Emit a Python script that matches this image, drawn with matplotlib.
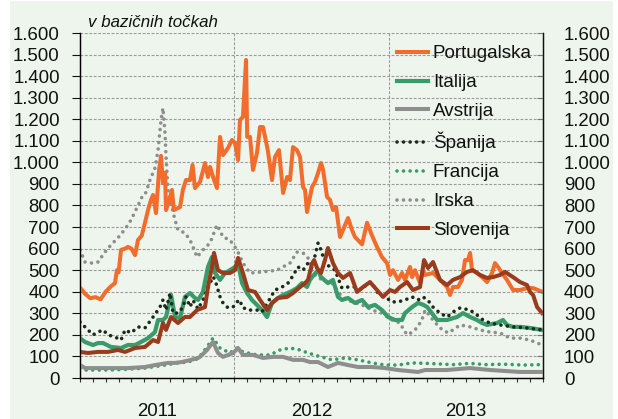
import matplotlib
matplotlib.use('Agg')
import matplotlib.pyplot as plt
from matplotlib.patches import Rectangle
from matplotlib.ticker import FuncFormatter, MultipleLocator, FixedLocator

plt.rcParams['font.family'] = ['Liberation Sans', 'DejaVu Sans']

# months since January 2011, spread in basis points
portugalska = [(0, 420), (0.4, 390), (0.8, 370), (1.2, 375), (1.6, 365), (2.0, 400), (2.4, 425), (2.72, 440),
               (2.87, 500), (3.0, 490), (3.19, 594), (3.5, 600), (3.73, 608), (4.0, 600), (4.28, 570), (4.51, 640),
               (4.8, 660), (5.05, 719), (5.29, 779), (5.52, 826), (5.68, 849), (5.91, 765), (6.15, 965), (6.3, 1030),
               (6.45, 904), (6.61, 951), (6.69, 779), (6.95, 826), (7.15, 872), (7.3, 779), (7.78, 793), (8.0, 872),
               (8.24, 918), (8.55, 918), (8.75, 988), (8.94, 881), (9.33, 909), (9.72, 997), (9.95, 932), (10.11, 979),
               (10.35, 932), (10.65, 881), (10.89, 1118), (11.12, 1034), (11.51, 1067), (11.82, 1104), (12.05, 1090),
               (12.29, 1011), (12.44, 1197), (12.67, 1211), (12.91, 1475), (13.0, 1118), (13.22, 1118), (13.45, 965),
               (13.76, 1044), (14.0, 1164), (14.23, 1164), (14.6, 1057), (14.93, 918), (15.16, 1025), (15.47, 1057),
               (15.79, 858), (16.1, 932), (16.33, 918), (16.56, 1071), (16.87, 1057), (17.11, 1025), (17.34, 886),
               (17.5, 872), (17.65, 770), (18.04, 886), (18.27, 909), (18.51, 951), (18.74, 997), (18.9, 965),
               (19.21, 840), (19.44, 826), (19.67, 779), (19.91, 793), (20.22, 654), (20.45, 686), (20.84, 742),
               (21.15, 686), (21.38, 654), (21.93, 620), (22.32, 720), (22.71, 660), (23.09, 608), (23.48, 561),
               (23.87, 533), (24.11, 478), (24.34, 500), (24.73, 455), (25.04, 487), (25.27, 455), (25.66, 515),
               (25.82, 468), (26.05, 500), (26.44, 440), (26.67, 500), (26.83, 478), (27.45, 487), (27.99, 455),
               (28.54, 422), (28.77, 385), (29.0, 422), (29.39, 422), (29.7, 455), (29.94, 547), (30.17, 547),
               (30.33, 580), (30.48, 500), (30.87, 487), (31.26, 468), (31.65, 445), (32.04, 487), (32.27, 533),
               (32.5, 515), (32.81, 487), (33.2, 455), (33.67, 408), (34.21, 408), (34.76, 417), (35.23, 417),
               (35.93, 400)]

italija = [(0, 185), (0.39, 167), (1.01, 153), (1.4, 162), (1.79, 162), (2.41, 144), (3.19, 139), (3.73, 153),
           (4.28, 153), (4.74, 167), (5.29, 185), (5.83, 213), (6.07, 269), (6.45, 269), (6.69, 283), (7.08, 385),
           (7.39, 283), (7.78, 278), (8.16, 376), (8.55, 394), (8.94, 371), (9.18, 362), (9.56, 399), (9.95, 515),
           (10.26, 561), (10.5, 487), (10.89, 455), (11.28, 487), (11.66, 500), (12.05, 515), (12.29, 533),
           (12.6, 440), (12.99, 394), (13.37, 362), (13.76, 339), (14.15, 315), (14.54, 283), (14.93, 348),
           (15.4, 371), (15.79, 385), (16.33, 399), (16.87, 417), (17.26, 440), (17.65, 422), (17.88, 455),
           (18.04, 468), (18.51, 500), (18.74, 468), (19.28, 440), (19.67, 455), (20.06, 376), (20.37, 362),
           (20.84, 371), (21.38, 348), (21.93, 362), (22.4, 329), (22.94, 339), (23.48, 315), (23.95, 283),
           (24.49, 269), (25.04, 269), (25.27, 301), (25.82, 329), (26.28, 348), (26.67, 340), (27.0, 329),
           (27.76, 269), (28.54, 269), (29.32, 283), (29.78, 301), (30.33, 283), (30.87, 269), (31.26, 255),
           (31.65, 246), (32.43, 255), (32.89, 269), (33.2, 246), (33.67, 237), (34.21, 237), (34.99, 232),
           (35.93, 223)]

avstrija = [(0, 60), (0.39, 46), (1.4, 46), (2.41, 46), (3.73, 46), (5.05, 51), (5.83, 60), (6.84, 70), (7.39, 70),
            (7.9, 74), (8.63, 84), (9.18, 93), (9.33, 98), (9.88, 130), (10.34, 167), (10.73, 116), (11.12, 98),
            (11.9, 116), (12.29, 139), (12.67, 107), (13.45, 107), (14.23, 93), (15.01, 98), (15.79, 98),
            (16.56, 84), (17.34, 84), (17.88, 74), (18.51, 74), (19.28, 51), (20.06, 70), (20.84, 60), (21.62, 51),
            (22.71, 51), (23.72, 46), (24.73, 37), (26.28, 28), (26.83, 37), (28.5, 37), (30.33, 46), (31.9, 37),
            (34.21, 28), (35.93, 28)]

spanija = [(0, 260), (0.23, 246), (0.62, 223), (1.01, 200), (1.4, 213), (1.79, 223), (2.18, 200), (2.72, 190),
           (3.19, 176), (3.5, 223), (3.97, 209), (4.51, 237), (5.05, 232), (5.52, 269), (6.22, 329), (6.45, 362),
           (6.69, 315), (7.0, 394), (7.23, 301), (7.62, 301), (8.01, 329), (8.24, 376), (8.55, 330), (8.79, 360),
           (9.18, 320), (9.56, 362), (10.11, 440), (10.34, 470), (10.5, 455), (10.89, 376), (11.12, 348),
           (11.43, 329), (11.66, 325), (11.9, 329), (12.21, 353), (12.44, 362), (12.6, 329), (13.06, 315),
           (13.76, 315), (14.15, 306), (14.62, 353), (15.16, 408), (15.71, 422), (16.17, 440), (16.49, 468),
           (16.95, 515), (17.34, 500), (17.73, 533), (18.04, 510), (18.51, 626), (18.74, 594), (19.05, 533),
           (19.44, 515), (19.83, 500), (20.37, 417), (20.84, 422), (21.38, 422), (21.93, 408), (22.32, 440),
           (22.71, 440), (23.17, 394), (23.72, 376), (24.26, 353), (24.73, 353), (25.27, 362), (25.82, 376),
           (26.28, 362), (26.67, 376), (27.06, 360), (27.45, 329), (27.99, 301), (28.54, 283), (29.0, 306),
           (29.55, 325), (30.33, 315), (30.87, 292), (31.34, 269), (31.88, 255), (32.66, 246), (33.67, 237),
           (34.76, 232), (35.93, 223)]

francija = [(0, 46), (0.39, 37), (2.18, 37), (3.5, 40), (5.05, 46), (6.61, 60), (7.62, 70), (8.4, 74), (9.18, 90),
            (9.88, 144), (10.34, 185), (10.89, 139), (11.66, 116), (12.21, 139), (12.67, 121), (13.76, 107),
            (14.77, 107), (15.55, 130), (16.33, 139), (17.11, 130), (17.73, 116), (18.51, 102), (19.6, 84),
            (20.61, 93), (21.62, 84), (22.71, 70), (23.72, 60), (24.73, 60), (25.82, 70), (26.83, 68), (28.0, 65),
            (29.0, 62), (30.33, 68), (31.5, 62), (33.0, 64), (34.5, 60), (35.93, 62)]

irska = [(0, 594), (0.39, 538), (0.86, 533), (1.4, 538), (1.94, 584), (2.41, 617), (2.95, 650), (3.5, 690),
         (3.97, 733), (4.51, 800), (4.9, 850), (5.13, 860), (5.44, 918), (5.83, 974), (6.07, 1057), (6.3, 1197),
         (6.45, 1252), (6.61, 1136), (6.69, 1025), (6.84, 872), (7.0, 826), (7.39, 733), (7.62, 686), (8.16, 673),
         (8.55, 640), (8.79, 608), (9.1, 561), (9.56, 594), (10.11, 626), (10.65, 710), (11.12, 654), (11.66, 640),
         (12.21, 594), (12.67, 533), (13.22, 487), (14.23, 492), (15.32, 500), (16.33, 533), (16.87, 584),
         (17.34, 580), (17.88, 547), (18.04, 487), (18.82, 455), (19.6, 440), (20.37, 376), (21.15, 353),
         (21.93, 339), (22.71, 315), (23.48, 301), (24.26, 269), (24.88, 255), (25.27, 213), (25.51, 200),
         (26.05, 223), (26.44, 255), (26.67, 283), (26.83, 315), (27.45, 269), (27.99, 232), (28.62, 209),
         (29.0, 223), (29.55, 246), (30.33, 237), (31.1, 223), (31.88, 213), (32.66, 209), (33.44, 185),
         (34.21, 185), (34.99, 176), (35.93, 153)]

slovenija = [(0, 121), (0.62, 116), (1.4, 121), (2.18, 121), (2.95, 130), (3.5, 121), (4.28, 139), (5.05, 144),
             (5.68, 176), (6.07, 167), (6.45, 255), (6.69, 223), (7.08, 283), (7.62, 255), (8.16, 283), (8.55, 283),
             (9.1, 315), (9.72, 329), (9.95, 422), (10.26, 515), (10.42, 580), (10.73, 500), (11.12, 487),
             (11.66, 487), (12.05, 500), (12.29, 557), (12.67, 487), (13.06, 408), (13.61, 399), (14.0, 362),
             (14.54, 315), (14.93, 348), (15.4, 371), (16.1, 376), (16.56, 394), (17.11, 422), (17.5, 440),
             (17.73, 455), (18.04, 530), (18.2, 547), (18.43, 510), (18.74, 487), (19.05, 547), (19.28, 603),
             (19.67, 533), (20.06, 487), (20.45, 464), (21.0, 487), (21.54, 399), (22.01, 422), (22.55, 445),
             (23.09, 408), (23.56, 376), (24.11, 408), (24.49, 399), (24.88, 422), (25.43, 445), (25.89, 408),
             (26.44, 422), (26.75, 547), (27.06, 510), (27.45, 538), (27.99, 455), (28.54, 431), (29.0, 455),
             (29.55, 468), (30.09, 492), (30.56, 500), (31.1, 478), (31.65, 464), (32.12, 468), (32.66, 478),
             (33.05, 492), (33.67, 468), (34.21, 445), (34.76, 431), (34.99, 399), (35.23, 385), (35.54, 329),
             (35.93, 301)]

year_labels = ['2011', '2012', '2013']
y_title = 'v bazičnih točkah'

BG = '#eef5ec'
ORANGE = '#f26c2b'
GREEN = '#3a9b6a'
GRAY = '#8e8e8e'
DARK = '#1c2a1c'
BROWN = '#9a3b1e'

fig = plt.figure(figsize=(6.18, 4.19), dpi=100)
fig.patches.append(Rectangle((10 / 618, 0.0), 603 / 618, 418 / 419, transform=fig.transFigure,
                             facecolor=BG, edgecolor='none', zorder=-10))
ax = fig.add_axes([80 / 618, 41 / 419, 463 / 618, 345 / 419])
ax.set_facecolor(BG)
ax.set_zorder(1)

def unzip(series):
    return [p[0] for p in series], [p[1] for p in series]

dot = dict(linestyle=(0, (0.01, 1.8)), dash_capstyle='round', lw=2.6)

order = [
    ('Irska', irska, dict(color=GRAY, **dot), 2),
    ('Francija', francija, dict(color=GREEN, **dot), 2),
    ('Avstrija', avstrija, dict(color=GRAY, lw=2.9), 3),
    ('Italija', italija, dict(color=GREEN, lw=3.0), 4),
    ('Španija', spanija, dict(color=DARK, **dot), 5),
    ('Portugalska', portugalska, dict(color=ORANGE, lw=2.9), 6),
    ('Slovenija', slovenija, dict(color=BROWN, lw=2.9), 7),
]
handles = {}
for name, ser, style, z in order:
    xs, ys = unzip(ser)
    h, = ax.plot(xs, ys, label=name, zorder=z, solid_joinstyle='round', **style)
    handles[name] = h

ax.set_xlim(0, 36)
ax.set_ylim(0, 1600)

fmt = FuncFormatter(lambda v, _: f"{int(v):,}".replace(',', '.'))
ax.yaxis.set_major_locator(MultipleLocator(100))
ax.yaxis.set_major_formatter(fmt)
ax.tick_params(axis='y', direction='out', length=5.5, width=0.8, pad=9, labelsize=13.4, colors='#111111')

ax.xaxis.set_major_locator(FixedLocator(range(0, 37)))
ax.set_xticklabels([])
ax.tick_params(axis='x', direction='out', length=3, width=0.8, color='#333333')
for i, lab in enumerate(year_labels):
    ax.text(6 + 12 * i, -0.097, lab, transform=ax.get_xaxis_transform(), ha='center', va='center',
            fontsize=13.4, color='#111111')

# grid
for v in range(100, 1700, 100):
    ax.axhline(v, color='#9a9a9a', lw=0.8, ls=(0, (2.5, 1.5)), zorder=1)
for m in (12, 24):
    ax.axvline(m, color='#9a9a9a', lw=0.8, ls=(0, (2.5, 1.5)), zorder=1)

ax.spines['top'].set_visible(False)
for s in ('left', 'right', 'bottom'):
    ax.spines[s].set_color('#111111')
    ax.spines[s].set_linewidth(1.0)

ax2 = ax.twinx()
ax2.set_zorder(2)
ax2.patch.set_visible(False)
ax2.set_ylim(0, 1600)
ax2.yaxis.set_major_locator(MultipleLocator(100))
ax2.yaxis.set_major_formatter(fmt)
ax2.tick_params(axis='y', direction='in', length=4.5, width=0.8, pad=15, labelsize=13.4,
                colors='#111111', color='#777777')
ax2.spines['top'].set_visible(False)
ax2.spines['right'].set_color('#111111')

fig.text(88 / 618, (419 - 27) / 419, y_title, style='italic', fontsize=12.2, ha='left', va='baseline',
         color='#111111')

leg_names = ['Portugalska', 'Italija', 'Avstrija', 'Španija', 'Francija', 'Irska', 'Slovenija']
leg = ax2.legend([handles[n] for n in leg_names], leg_names, loc='upper left',
                 bbox_to_anchor=(397 / 618, (419 - 45) / 419), bbox_transform=fig.transFigure,
                 frameon=False, fontsize=13.6, handlelength=1.65, handletextpad=0.25,
                 labelspacing=0.62, borderpad=0, borderaxespad=0)
for t in leg.get_texts():
    t.set_color('#111111')

fig.savefig('out.png', dpi=100, facecolor='white')
